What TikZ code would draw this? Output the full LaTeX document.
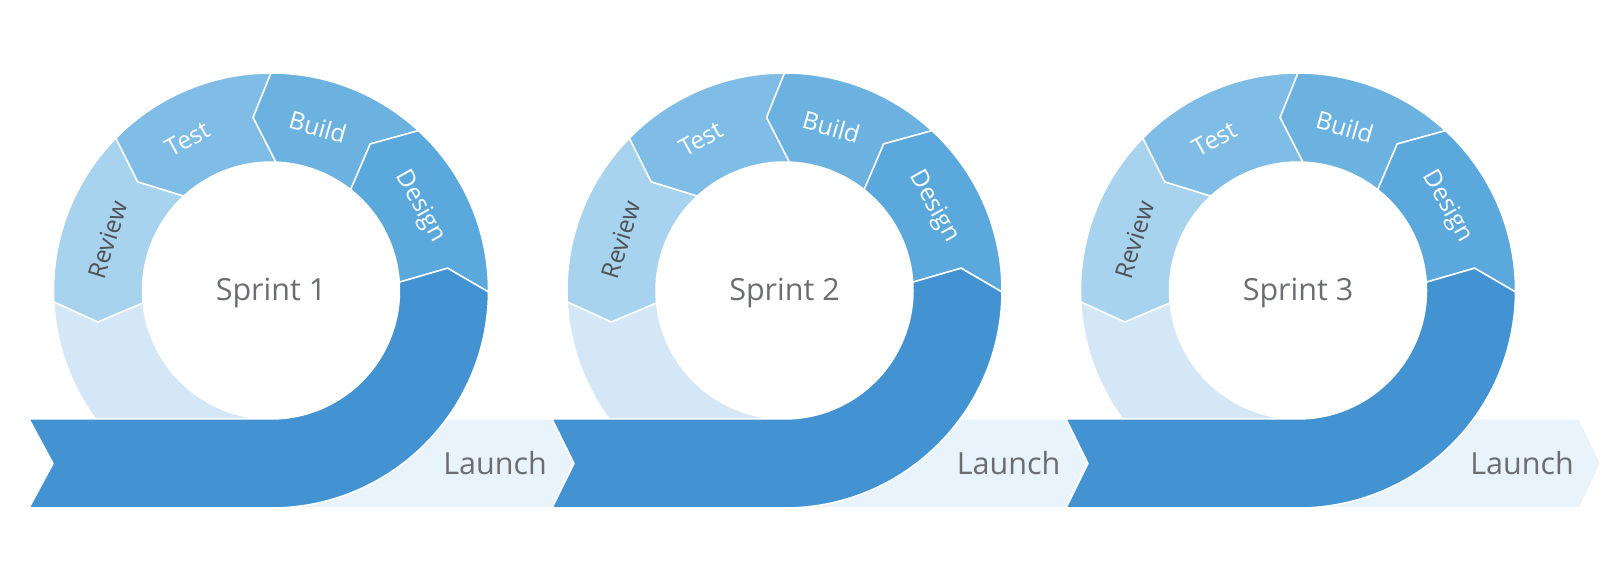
\documentclass[tikz,border=0pt]{standalone}
\usepackage{fontspec}
\setmainfont{Open Sans}
\definecolor{cDark}{HTML}{4393D3}
\definecolor{cDesign}{HTML}{5BA8DC}
\definecolor{cBuild}{HTML}{6CB2E0}
\definecolor{cTest}{HTML}{7FBCE6}
\definecolor{cReview}{HTML}{A8D3EE}
\definecolor{cPale}{HTML}{D3E7F6}
\definecolor{cLaunch}{HTML}{E8F3FB}
\definecolor{cText}{HTML}{6B6D70}
\definecolor{cRevText}{HTML}{505256}
\tikzset{
  segshape/.style={draw=white, line width=1.5pt, line join=round},
  bigtext/.style={text=cText, font=\fontsize{30.5}{36}\selectfont, inner sep=0pt},
  segtext/.style={font=\fontsize{24.5}{29}\selectfont, inner sep=0pt},
}
\newcommand\sprintunit[4]{%
\begin{scope}[shift={(#1,295.5)}]
  % launch band
  \filldraw[segshape, fill=cLaunch] (0,-128.5) -- (281.5,-128.5) -- (302.5,-173) -- (281.5,-217.5) -- (0,-217.5) -- cycle;
  % pale
  \filldraw[segshape, fill=cPale] (183:217.5) arc[start angle=183,end angle=270,radius=217.5pt]
     -- (270:128.5) arc[start angle=270,end angle=185.5,radius=128.5pt] -- (190.3:176) -- cycle;
  % review
  \filldraw[segshape, fill=cReview] (135.5:217.5) arc[start angle=135.5,end angle=183,radius=217.5pt]
     -- (190.3:176) -- (185.5:128.5) arc[start angle=185.5,end angle=132.7,radius=128.5pt] -- (140.8:172) -- cycle;
  % test
  \filldraw[segshape, fill=cTest] (90:217.5) arc[start angle=90,end angle=135.5,radius=217.5pt]
     -- (140.8:172) -- (132.7:128.5) arc[start angle=132.7,end angle=87.8,radius=128.5pt] -- (95.9:174) -- cycle;
  % build
  \filldraw[segshape, fill=cBuild] (47.3:217.5) arc[start angle=47.3,end angle=90,radius=217.5pt]
     -- (95.9:174) -- (87.8:128.5) arc[start angle=87.8,end angle=51.7,radius=128.5pt] -- (55.9:177) -- cycle;
  % design
  \filldraw[segshape, fill=cDesign] (-0.4:217.5) arc[start angle=-0.4,end angle=47.3,radius=217.5pt]
     -- (55.9:177) -- (51.7:128.5) arc[start angle=51.7,end angle=3.7,radius=128.5pt] -- (7.2:178) -- cycle;
  % dark band with banner
  \filldraw[segshape, fill=cDark] (-90:217.5) arc[start angle=-90,end angle=-0.4,radius=217.5pt]
     -- (7.2:178) -- (3.7:128.5) arc[start angle=3.7,end angle=-90,radius=128.5pt]
     -- (#3,-128.5) -- ({#3+#4},-173) -- (#3,-217.5) -- cycle;
  % labels
  \node[bigtext] (sprint#2) at (0,-2) {Sprint #2};
  \node[bigtext] (launch#2) at (224,-173) {Launch};
  \node[segtext, text=white, rotate=-60.7] (design#2) at (29.3:171) {Design};
  \node[segtext, text=white, rotate=-16] (build#2) at (74:170) {Build};
  \node[segtext, text=white, rotate=28.8] (test#2) at (118.8:173) {Test};
  \node[segtext, text=cRevText, rotate=72.8] (review#2) at (162.8:171) {Review};
\end{scope}}
\begin{document}
\begin{tikzpicture}[x=1pt,y=1pt]
  \useasboundingbox (0,0) rectangle (1624,586);
  \sprintunit{271}{1}{-242}{24}
  \sprintunit{784.5}{2}{-232.5}{22}
  \sprintunit{1298}{3}{-232}{22}
\end{tikzpicture}
\end{document}
